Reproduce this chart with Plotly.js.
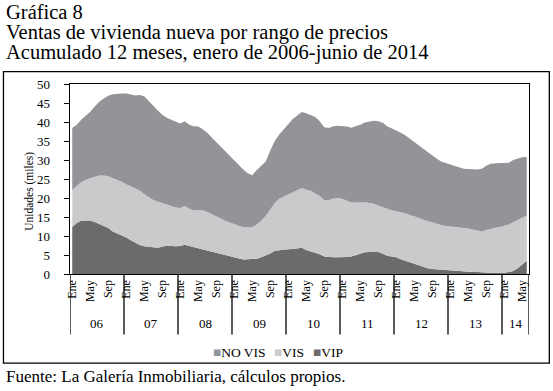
<!DOCTYPE html>
<html>
<head>
<meta charset="utf-8">
<script src="https://cdn.plot.ly/plotly-3.0.1.min.js"></script>
<style>html,body{margin:0;padding:0;background:#fff;}#chart{width:553px;height:391px;}</style>
</head>
<body>
<div id="chart"></div>
<script>
// ---- Data: monthly, Jan 2006 - Jun 2014 (thousands of units, 12-month cumulative) ----
const monthNames = ['Ene','Feb','Mar','Abr','May','Jun','Jul','Ago','Sep','Oct','Nov','Dic'];
const years = ['06','07','08','09','10','11','12','13','14'];
const shownMonths = ['Ene','May','Sep'];

const VIP = [
 12.4,13.4,14.0,14.1,14.1,13.7,13.1,12.6,12.1,11.2,10.7,10.2,
 9.6,8.9,8.2,7.6,7.3,7.1,7.0,6.9,7.2,7.5,7.4,7.3,
 7.4,7.7,7.4,7.1,6.8,6.4,6.0,5.7,5.4,5.1,4.9,4.6,
 4.3,4.0,3.8,3.9,4.0,4.0,4.4,4.8,5.4,6.1,6.3,6.4,
 6.5,6.6,6.7,6.9,6.3,6.0,5.6,5.2,4.6,4.4,4.4,4.4,
 4.4,4.5,4.6,5.0,5.5,5.7,5.8,5.8,5.8,5.3,4.8,4.6,
 4.4,3.9,3.5,3.2,2.7,2.2,1.8,1.5,1.3,1.2,1.1,1.0,
 0.9,0.8,0.7,0.7,0.6,0.5,0.5,0.4,0.4,0.3,0.3,0.3,
 0.3,0.5,0.8,1.5,2.5,3.5
];
const VIS = [
 9.7,9.8,10.2,10.7,11.2,11.9,12.8,13.3,13.6,14.1,14.1,14.1,
 14.0,14.1,14.3,14.4,13.7,13.1,12.5,12.2,11.5,10.8,10.6,10.2,
 10.0,10.2,9.8,9.7,10.0,10.4,10.3,10.1,9.8,9.5,9.1,8.9,
 8.7,8.7,8.6,8.4,8.4,9.0,9.6,10.5,11.6,12.6,13.5,14.0,
 14.3,15.0,15.5,15.7,15.9,15.9,15.6,15.3,14.9,15.1,15.5,15.6,
 15.4,14.9,14.2,13.8,13.4,13.2,12.9,12.7,12.2,12.2,12.4,12.2,
 12.2,12.4,12.5,12.3,12.5,12.6,12.5,12.4,12.2,12.0,11.8,11.6,
 11.6,11.6,11.6,11.5,11.4,11.2,10.9,10.8,11.2,11.7,11.9,12.1,
 12.3,12.5,12.9,12.8,12.4,11.9
];
const NO_VIS = [
 16.3,16.1,16.4,16.8,17.4,18.5,19.4,20.3,21.2,22.0,22.7,23.2,
 23.9,24.3,24.5,25.1,25.8,25.3,24.7,23.9,23.2,22.8,22.6,22.6,
 22.2,22.3,22.1,22.1,22.0,21.3,20.9,20.1,19.5,18.8,18.2,17.5,
 16.9,16.0,15.1,14.2,13.6,14.4,14.5,14.3,15.5,16.3,16.9,17.6,
 18.5,19.2,19.5,20.0,20.1,20.0,20.1,19.7,19.1,18.9,19.0,19.0,
 19.1,19.4,19.7,20.0,20.4,21.0,21.5,21.8,22.2,22.3,21.7,21.6,
 21.3,20.9,20.5,20.1,19.4,18.9,18.5,18.1,17.5,17.1,16.7,16.5,
 16.3,16.0,15.7,15.5,15.6,15.9,16.1,16.5,16.9,17.0,17.0,16.8,
 16.6,16.3,16.3,16.1,15.8,15.4
];
const seriesNames = ['NO VIS','VIS','VIP'];
const seriesColors = {'NO VIS':'#939497','VIS':'#c9cacc','VIP':'#6b6b6e'};

// ---- Categories ----
const n = VIP.length;
const idx = [], cats = [];
for (let i = 0; i < n; i++) { idx.push(i); cats.push(monthNames[i % 12] + '-' + years[Math.floor(i / 12)]); }
const tickvals = [], ticktext = [];
idx.forEach(i => { const m = monthNames[i % 12]; if (shownMonths.includes(m)) { tickvals.push(i); ticktext.push(m); } });

// ---- Geometry helpers (pixel -> paper) ----
const L = 70, R = 528.7, T = 84, B = 274.3;
const pxX = p => (p - L) / (R - L);
const pxY = p => (B - p) / (B - T);
const FONT = 'Liberation Serif, Times New Roman, serif';

const mk = (name, y) => ({
  x: idx, y: y, customdata: cats, name: name, type: 'scatter', mode: 'lines',
  stackgroup: 'one', line: {width: 0, color: seriesColors[name]},
  fillcolor: seriesColors[name], showlegend: false, hoverinfo: 'skip'
});
const data = [mk('VIP', VIP), mk('VIS', VIS), mk('NO VIS', NO_VIS)];

// Year separators and labels
const shapes = [];
const annotations = [];
const sepY1 = pxY(335);
years.forEach((yr, k) => {
  const start = k * 12;
  const end = Math.min(n, start + 12);
  shapes.push({type:'line', xref:'x', yref:'paper', x0:start-0.5, x1:start-0.5, y0:0, y1:sepY1, line:{color:'#000', width:1.3}});
  annotations.push({xref:'x', yref:'paper', x:(start + end - 1)/2, y:pxY(324), text:yr, showarrow:false,
    font:{family:FONT, size:13, color:'#000'}, xanchor:'center', yanchor:'middle'});
});
shapes.push({type:'line', xref:'x', yref:'paper', x0:n-0.5, x1:n-0.5, y0:0, y1:sepY1, line:{color:'#000', width:1.3}});

// Outer frame
shapes.push({type:'rect', xref:'paper', yref:'paper', x0:pxX(3.5), x1:pxX(549), y0:pxY(363.5), y1:pxY(71.7), line:{color:'#000', width:1.3}});

// Titles
const titleLines = ['Gráfica 8', 'Ventas de vivienda nueva por rango de precios', 'Acumulado 12 meses, enero de 2006-junio de 2014'];
titleLines.forEach((t, k) => {
  annotations.push({xref:'paper', yref:'paper', x:pxX(4), y:pxY(12 + 20*k), text:t, showarrow:false,
    xanchor:'left', yanchor:'middle', font:{family:FONT, size:20.5, color:'#000'}});
});
// Y title
annotations.push({xref:'paper', yref:'paper', x:pxX(30), y:pxY(191), text:'Unidades (miles)', showarrow:false,
  textangle:-90, xanchor:'center', yanchor:'middle', font:{family:FONT, size:11.5, color:'#000'}});
// Legend (custom)
const legendX = [211, 272, 311];
seriesNames.forEach((nm, k) => {
  annotations.push({xref:'paper', yref:'paper', x:pxX(legendX[k]), y:pxY(353), showarrow:false, xanchor:'left', yanchor:'middle',
    text:'<span style="color:' + seriesColors[nm] + '">■</span>' + nm, font:{family:FONT, size:13.5, color:'#000'}});
});
// Source
annotations.push({xref:'paper', yref:'paper', x:pxX(4), y:pxY(377), text:'Fuente: La Galería Inmobiliaria, cálculos propios.',
  showarrow:false, xanchor:'left', yanchor:'middle', font:{family:FONT, size:17, color:'#000'}});

const layout = {
  width: 553, height: 391,
  margin: {l: L, r: 553 - R, t: T, b: 391 - B, pad: 0},
  paper_bgcolor: '#fff', plot_bgcolor: '#fff',
  showlegend: false,
  font: {family: FONT, color: '#000'},
  xaxis: {range: [-0.5, n - 0.5], tickvals: tickvals, ticktext: ticktext, tickangle: -90,
    ticks: '', showgrid: false, zeroline: false, showline: true, mirror: true, linecolor: '#000', linewidth: 1.3,
    tickfont: {family: FONT, size: 12, color: '#000'}, fixedrange: true},
  yaxis: {range: [0, 50], tickvals: [0,5,10,15,20,25,30,35,40,45,50], ticks: 'outside', ticklen: 5, tickcolor: '#000',
    showgrid: false, zeroline: false, showline: true, mirror: true, linecolor: '#000', linewidth: 1.3,
    ticklabelstandoff: 11, tickfont: {family: FONT, size: 13, color: '#000'}, fixedrange: true},
  shapes: shapes,
  annotations: annotations
};
Plotly.newPlot('chart', data, layout, {displayModeBar: false, staticPlot: true});
</script>
</body>
</html>
